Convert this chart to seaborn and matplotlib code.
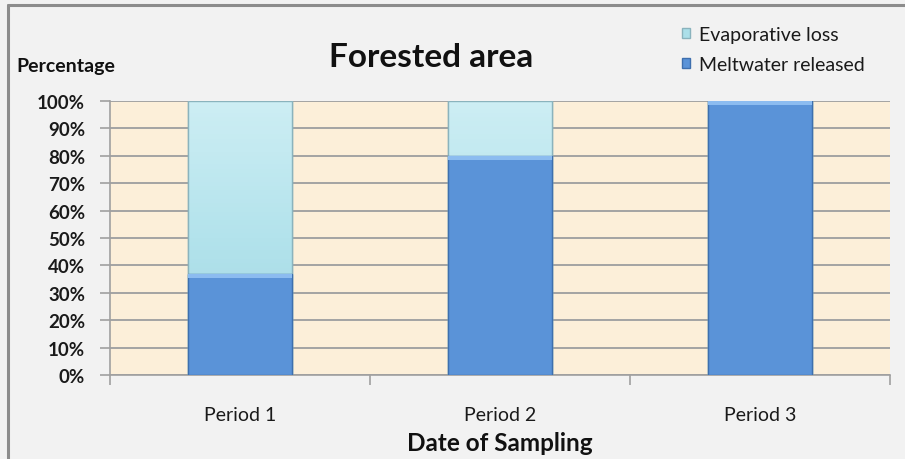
import matplotlib
matplotlib.use("Agg")
import matplotlib.pyplot as plt
import numpy as np
from matplotlib.lines import Line2D
from matplotlib.patches import Rectangle
from matplotlib.colors import LinearSegmentedColormap
from matplotlib.ticker import FixedLocator, PercentFormatter
import seaborn as sns
import pandas as pd

# Share of water for each sampling period (percent)
periods = ["Period 1", "Period 2", "Period 3"]
meltwater = [37, 80, 100]
evaporative = [63, 20, 0]

sns.set_theme(style="white")
plt.rcParams["font.family"] = ["Lato", "DejaVu Sans"]

df = pd.DataFrame({"period": periods, "melt": meltwater,
                   "total": [m + e for m, e in zip(meltwater, evaporative)]})

fig = plt.figure(figsize=(9.05, 4.6), dpi=100, facecolor="#f2f2f2")
ax = fig.add_axes([0.1215, 0.1826, 0.8619, 0.5957])
ax.set_facecolor("#fcefd9")

evap_color = "#abdfe9"
melt_color = "#5a93d8"

# stacked bars: the full column in the evaporative colour, meltwater over it
sns.barplot(data=df, x="period", y="total", color=evap_color, width=0.4,
            saturation=1, edgecolor="#8ab3bd", linewidth=1.0, ax=ax,
            label="Evaporative loss", zorder=3)
n_evap = len(ax.patches)
sns.barplot(data=df, x="period", y="melt", color=melt_color, width=0.4,
            saturation=1, edgecolor="#3e6fae", linewidth=1.0, ax=ax,
            label="Meltwater released", zorder=4)

ax.set_ylim(0, 100)
ax.set_xlim(-0.5, 2.5)

# soft vertical shading inside the evaporative columns (paler towards the top)
shade = np.linspace(0, 1, 64).reshape(-1, 1)
water = LinearSegmentedColormap.from_list("water", ["#9fd6e2", "#b3e3ec", "#cdeef4"])
for p in ax.patches[:n_evap]:
    x0, y0, w, h = p.get_x(), p.get_y(), p.get_width(), p.get_height()
    if h <= 0:
        continue
    im = ax.imshow(shade, cmap=water, aspect="auto", origin="lower",
                   extent=(x0, x0 + w, y0, y0 + h), zorder=3.5)
    im.set_clip_path(p)
    ax.add_patch(Rectangle((x0, y0), w, h, facecolor="none",
                           edgecolor="#8ab3bd", linewidth=1.0, zorder=3.6))

# light bevel along the top of each meltwater column
for p in ax.patches[n_evap:n_evap + len(periods)]:
    x0, y0, w, h = p.get_x(), p.get_y(), p.get_width(), p.get_height()
    ax.add_patch(Rectangle((x0, y0 + h - 1.6), w, 1.6, facecolor="#8cbcf0",
                           edgecolor="none", zorder=4.5))

ax.yaxis.set_major_locator(FixedLocator(range(0, 101, 10)))
ax.yaxis.set_major_formatter(PercentFormatter(decimals=0))
ax.grid(axis="y", color="#a3a3a3", linewidth=1.4, zorder=1)
ax.set_axisbelow(True)

for s in ("top", "right"):
    ax.spines[s].set_visible(False)
for s in ("left", "bottom"):
    ax.spines[s].set_color("#a0a0a0")
    ax.spines[s].set_linewidth(1.2)

ax.tick_params(axis="y", direction="out", length=7, width=1.2, color="#a0a0a0",
               pad=11, labelsize=13.5, labelcolor="#1a1a1a", left=True)
ax.set_xticks([-0.5, 0.5, 1.5, 2.5], minor=True)
ax.tick_params(axis="x", which="minor", direction="out", length=7, width=1.2,
               color="#a0a0a0", bottom=True)
ax.tick_params(axis="x", which="major", length=0, pad=22, labelsize=14,
               labelcolor="#1a1a1a")
for lab in ax.get_yticklabels():
    lab.set_fontweight("bold")

ax.set_ylabel("")
ax.set_xlabel("Date of Sampling", fontsize=17.5, fontweight="bold", labelpad=6,
              color="#111111")

fig.text(431 / 905, 1 - 58 / 460, "Forested area", ha="center", va="center",
         fontsize=24, fontweight="bold", color="#111111")
fig.text(16 / 905, 1 - 67 / 460, "Percentage", ha="left", va="center",
         fontsize=14, fontweight="bold", color="#111111")

handles, labels = ax.get_legend_handles_labels()
leg = ax.legend(handles, labels, loc="upper left",
                bbox_to_anchor=(682 / 905, 1 - 27 / 460),
                bbox_transform=fig.transFigure, frameon=False,
                handlelength=0.42, handleheight=0.42, handletextpad=0.45,
                labelspacing=0.66, fontsize=14, borderaxespad=0, borderpad=0)
for t in leg.get_texts():
    t.set_color("#1a1a1a")

# outer chart frame along the left and top edges
fig.add_artist(Line2D([8 / 905, 8 / 905], [0, 1 - 5.5 / 460],
                      transform=fig.transFigure, color="#8c8c8c", linewidth=2.2))
fig.add_artist(Line2D([8 / 905, 1], [1 - 5.5 / 460, 1 - 5.5 / 460],
                      transform=fig.transFigure, color="#8c8c8c", linewidth=2.2))

fig.savefig("out.png", dpi=100, facecolor=fig.get_facecolor())
